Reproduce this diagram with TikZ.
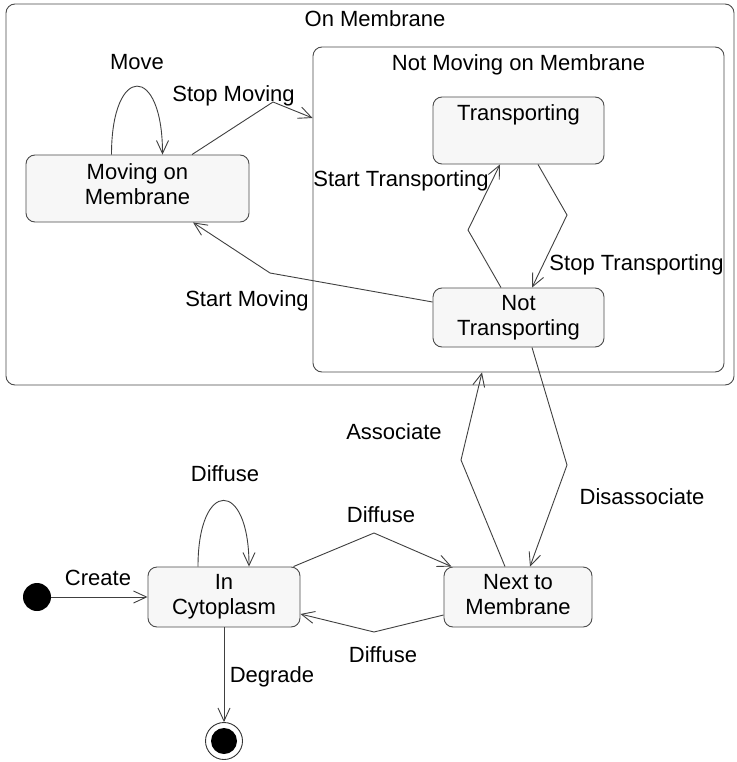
\documentclass[tikz,border=0pt]{standalone}
\usepackage{fontspec}
\setmainfont{Liberation Sans}
\usetikzlibrary{arrows.meta}
\begin{document}
\begin{tikzpicture}[x=1pt,y=-1pt,
  every node/.style={font=\fontsize{22pt}{25pt}\selectfont},
  edge/.style={draw=black!75, line width=0.9pt, -{Straight Barb[length=13pt,width=12pt]}},
  statebox/.style={draw=black!70, line width=0.9pt, rounded corners=9pt, fill=black!3, inner sep=0pt},
  container/.style={draw=black!70, line width=0.9pt, rounded corners=9pt, inner sep=0pt},
  lbl/.style={anchor=base, inner sep=0pt},
  twoline/.style={align=center, inner sep=0pt}]
\useasboundingbox (0,0) rectangle (736,762);
\fill[white] (0,0) rectangle (736,762);

% composite states
\node[container, minimum width=728pt, minimum height=381pt] (om) at (370,194.5) {};
\node[lbl] (omtitle) at (375,27) {On Membrane};
\node[container, minimum width=411pt, minimum height=325pt] (nm) at (518.5,209.5) {};
\node[lbl] (nmtitle) at (518.5,71) {Not Moving on Membrane};

% simple states
\node[statebox, minimum width=171pt, minimum height=67pt] (tr) at (518.5,130.5) {};
\node[lbl] (trtext) at ([yshift=-24pt]tr.north) {Transporting};
\node[statebox, minimum width=171pt, minimum height=59pt] (nt) at (518.5,317.5) {};
\node[twoline] (nttext) at (nt.center) {Not\\Transporting};
\node[statebox, minimum width=223pt, minimum height=67pt] (mm) at (137.5,188.5) {};
\node[twoline] (mmtext) at ([yshift=4pt]mm.center) {Moving on\\Membrane};
\node[statebox, minimum width=152pt, minimum height=60pt] (ic) at (224,597) {};
\node[twoline] (ictext) at (ic.center) {In\\Cytoplasm};
\node[statebox, minimum width=148pt, minimum height=60pt] (ntm) at (518,597) {};
\node[twoline] (ntmtext) at ([yshift=2pt]ntm.center) {Next to\\Membrane};

% pseudo states
\node[circle, fill=black, minimum size=28pt, inner sep=0pt] (init) at (37,597) {};
\node[circle, draw=black!80, line width=0.9pt, minimum size=37pt, inner sep=0pt] (fin) at (224,741) {};
\node[circle, fill=black, minimum size=26pt, inner sep=0pt] (fincore) at (fin.center) {};

% transitions
\draw[edge] (init.east) -- (ic.west);
\node[lbl] (lcreate) at (98,585) {Create};
\draw[edge] (ic.south) -- (fin.north);
\node[lbl] (ldegrade) at (272,682) {Degrade};
\draw[edge] ([xshift=-26pt]ic.north) .. controls +(0,-88) and +(0,-88) .. ([xshift=25pt]ic.north);
\node[lbl] (ldiffloop) at (225,481) {Diffuse};
\draw[edge] ([xshift=-7pt]ic.north east) -- (374,533) -- ([xshift=8pt]ntm.north west);
\node[lbl] (ldiffto) at (381,522) {Diffuse};
\draw[edge] ([yshift=-18pt]ntm.west) -- (374,632) -- ([yshift=-17pt]ic.east);
\node[lbl] (ldiffback) at (383,662) {Diffuse};
\draw[edge] ([xshift=-13pt]ntm.north) -- (461,460) -- ([xshift=-36.5pt]nm.south);
\node[lbl] (lassoc) at (394,439) {Associate};
\draw[edge] ([xshift=13.5pt]nt.south) -- (567,465) -- ([xshift=12pt]ntm.north);
\node[lbl] (ldisassoc) at (642,504) {Disassociate};
\draw[edge] ([xshift=-17.5pt]nt.north) -- (468,230) -- ([xshift=-18.5pt]tr.south);
\node[lbl] (lstarttr) at (401,186) {Start Transporting};
\draw[edge] ([xshift=19.5pt]tr.south) -- (567,215) -- ([xshift=13.5pt]nt.north);
\node[lbl] (lstoptr) at (636.5,270) {Stop Transporting};
\draw[edge] ([yshift=15.5pt]nt.west) -- (270,273) -- ([xshift=55.5pt]mm.south);
\node[lbl] (lstartmv) at (247,306) {Start Moving};
\draw[edge] ([xshift=54.5pt]mm.north) -- (273,102) -- ([yshift=91.5pt]nm.west);
\node[lbl] (lstopmv) at (233.5,102) {Stop Moving};
\draw[edge] ([xshift=-26pt]mm.north) .. controls +(0,-91) and +(0,-91) .. ([xshift=25pt]mm.north);
\node[lbl] (lmove) at (137,70) {Move};
\end{tikzpicture}
\end{document}
